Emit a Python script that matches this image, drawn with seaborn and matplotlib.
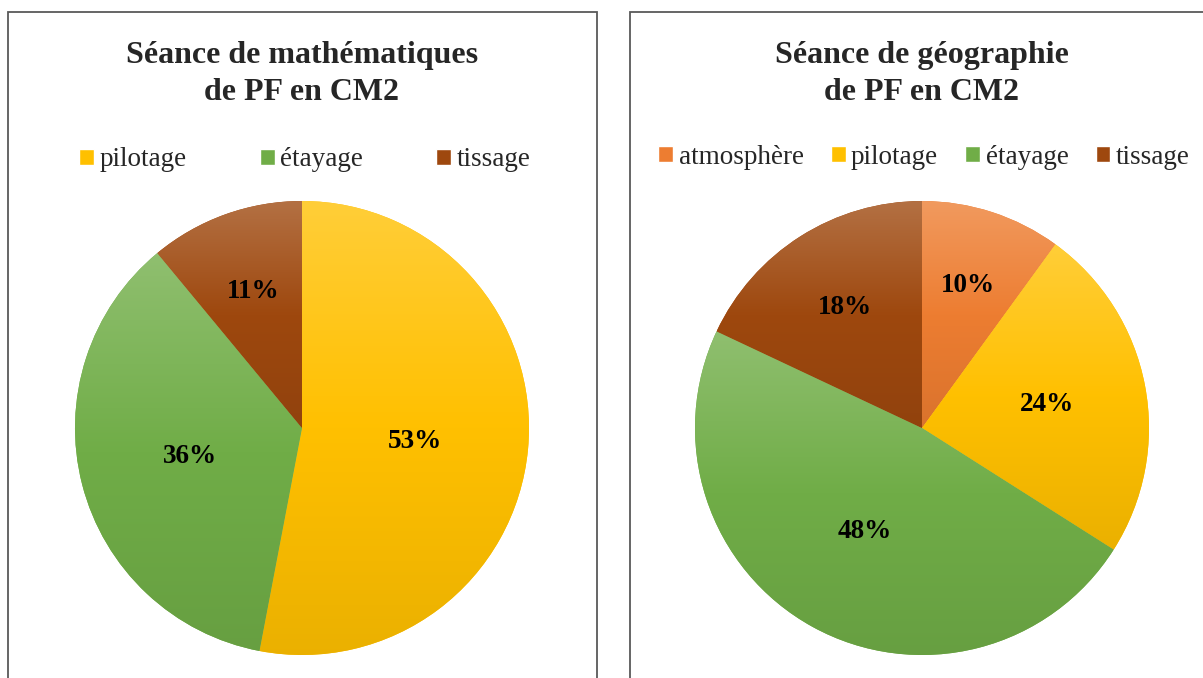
# Two pie charts: pedagogical posture shares in a CM2 session
import numpy as np
import matplotlib
matplotlib.use("Agg")
import matplotlib.pyplot as plt
from matplotlib.colors import to_rgb, LinearSegmentedColormap
from matplotlib.patches import Rectangle
import seaborn as sns

W, H = 1203, 678

# Data
math_title = "Séance de mathématiques\nde PF en CM2"
math_labels = ["pilotage", "étayage", "tissage"]
math_values = [53, 36, 11]

geo_title = "Séance de géographie\nde PF en CM2"
geo_labels = ["atmosphère", "pilotage", "étayage", "tissage"]
geo_values = [10, 24, 48, 18]

colors = {"atmosphère": "#ED7D31", "pilotage": "#FFC000",
          "étayage": "#70AD47", "tissage": "#9E480E"}

sns.set_theme(style="white")
plt.rcParams["font.family"] = ["Liberation Serif", "DejaVu Serif"]

fig = plt.figure(figsize=(W / 100, H / 100), dpi=100)


def shade(c, f):
    # f > 0 lightens towards white, f < 0 darkens towards black
    c = np.array(to_rgb(c))
    return tuple(c + (1 - c) * f) if f > 0 else tuple(c * (1 + f))


def draw_pie(cx, cy, r, labels, values, label_pos):
    ax = fig.add_axes([(cx - r) / W, 1 - (cy + r) / H, 2 * r / W, 2 * r / H])
    base = [colors[l] for l in labels]
    wedges, _ = ax.pie(values, colors=base, startangle=90, counterclock=False,
                       radius=1, wedgeprops=dict(linewidth=0))
    grad = np.linspace(0, 1, 256).reshape(-1, 1)
    for w, c, (lr, dang), v in zip(wedges, base, label_pos, values):
        ext = w.get_path().get_extents()
        cmap = LinearSegmentedColormap.from_list("g", [shade(c, 0.22), c, shade(c, -0.08)])
        im = ax.imshow(grad, extent=(ext.x0, ext.x1, ext.y0, ext.y1), origin="upper",
                       cmap=cmap, aspect="auto", zorder=2)
        im.set_clip_path(w)
        mid = np.deg2rad((w.theta1 + w.theta2) / 2 + dang)
        ax.text(lr * np.cos(mid), lr * np.sin(mid), f"{v}%", ha="center", va="center",
                fontsize=19.5, fontweight="bold", color="black", zorder=3)
    ax.set_xlim(-1, 1)
    ax.set_ylim(-1, 1)
    ax.set_aspect("equal")
    ax.axis("off")
    return wedges


def draw_legend(cx, cy, labels, spacing):
    handles = [Rectangle((0, 0), 1, 1, facecolor=colors[l]) for l in labels]
    fig.legend(handles, labels, loc="center", bbox_to_anchor=(cx / W, 1 - cy / H),
               ncol=len(labels), frameon=False, fontsize=19.5, handlelength=0.55,
               handleheight=0.55, handletextpad=0.2, columnspacing=spacing,
               borderpad=0)


# panel borders
fig.add_artist(Rectangle((8 / W, -0.1), (597 - 8) / W, 1.1 - 12 / H, transform=fig.transFigure,
                         fill=False, edgecolor="#595959", linewidth=1.3))
fig.add_artist(Rectangle((630 / W, -0.1), 0.5, 1.1 - 12 / H, transform=fig.transFigure,
                         fill=False, edgecolor="#595959", linewidth=1.3))

# left chart
fig.text(302 / W, 1 - 74 / H, math_title, ha="center", va="center", fontsize=23,
         fontweight="bold", linespacing=1.32)
draw_legend(305, 160, math_labels, 2.7)
draw_pie(302, 428, 227, math_labels, math_values, [(0.5, -1.5), (0.51, 0), (0.64, 0)])

# right chart
fig.text(922 / W, 1 - 74 / H, geo_title, ha="center", va="center", fontsize=23,
         fontweight="bold", linespacing=1.32)
draw_legend(924, 157, geo_labels, 1.0)
draw_pie(922, 428, 227, geo_labels, geo_values, [(0.66, 0), (0.56, 0), (0.52, 0), (0.63, 0)])

fig.savefig("out.png", dpi=100, facecolor="white")
